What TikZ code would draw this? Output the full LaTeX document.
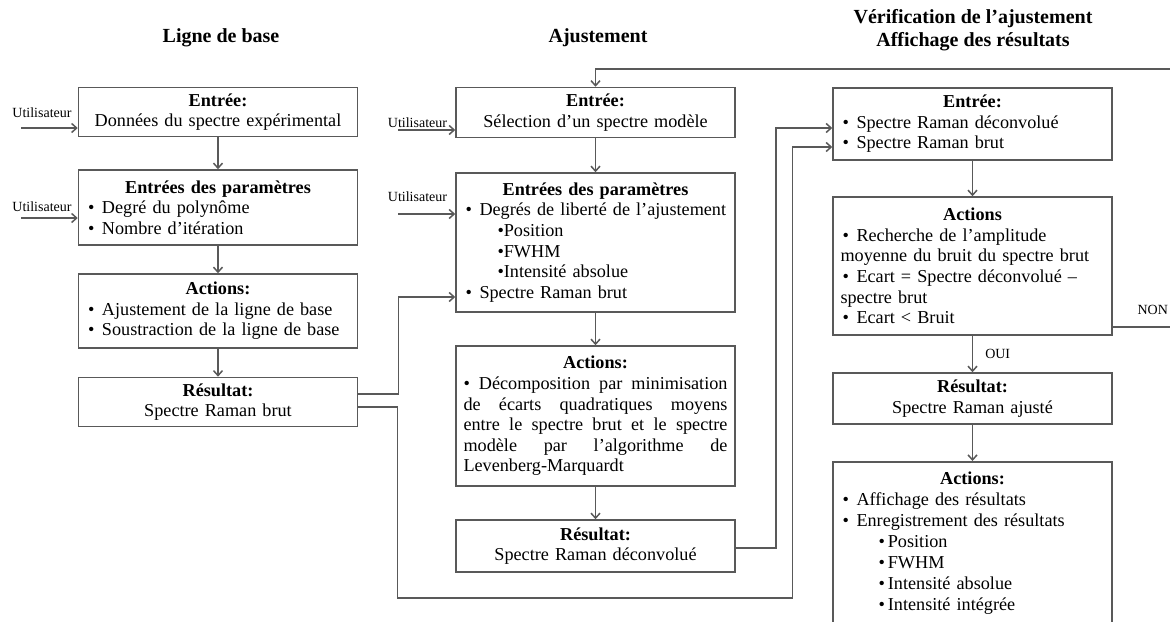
\documentclass[tikz,border=0pt]{standalone}
\usepackage{fontspec}
\setmainfont{Liberation Serif}
\usetikzlibrary{arrows.meta,calc}
\setlength{\parindent}{0pt}
\colorlet{trait}{black!65}
\newcommand{\entete}[1]{{\centering\textbf{#1}\par}}
\newcommand{\puce}{\hspace*{1pt}\makebox[7pt][l]{\textbullet}}
\tikzset{
	bloc/.style={draw=trait,line width=0.75pt,text width=132pt,inner xsep=3.75pt,inner ysep=3pt,
		font=\fontsize{9.1}{10.3}\selectfont,align=left},
	titre/.style={font=\fontsize{10}{11.5}\selectfont\bfseries,align=center,inner sep=0pt},
	lbl/.style={font=\fontsize{7}{8}\selectfont,inner sep=1pt},
	fl/.style={draw=trait,line width=0.75pt,->},
}

\begin{document}
\begin{tikzpicture}[x=0.5pt,y=-0.5pt,>={Straight Barb[length=2.5pt,width=4.5pt]}]
		\useasboundingbox (0,0) rectangle (1170,621);
		\clip (0,0) rectangle (1170,621);
		\node[titre,anchor=base] (tA) at (221,42) {Ligne de base};
		\node[titre,anchor=base] (tB) at (598,42) {Ajustement};
		\node[titre] (tC) at (973,30) {Vérification de l’ajustement\\Affichage des résultats};
		% ligne de base
		\node[bloc,align=center,minimum height=24pt] (eA) at (218,112) {\textbf{Entrée:}\\Données du spectre expérimental};
		\node[bloc,minimum height=37.5pt] (pA) at (218,207.5) {\entete{Entrées des paramètres}
			\puce Degré du polynôme\\
			\puce Nombre d’itération};
		\node[bloc,minimum height=37pt] (actA) at (218,311) {\entete{Actions:}
			\puce Ajustement de la ligne de base\\
			\puce Soustraction de la ligne de base};
		\node[bloc,align=center,minimum height=24pt] (resA) at (218,402) {\textbf{Résultat:}\\Spectre Raman brut};
		% ajustement
		\node[bloc,align=center,minimum height=25pt] (eB) at (595.5,112.5) {\textbf{Entrée:}\\Sélection d’un spectre modèle};
		\node[bloc,minimum height=69.5pt] (pB) at (595.5,242.5) {\entete{Entrées des paramètres}
			\puce Degrés de liberté de l’ajustement\\
			\hspace*{17pt}\textbullet Position\\
			\hspace*{17pt}\textbullet FWHM\\
			\hspace*{17pt}\textbullet Intensité absolue\\
			\puce Spectre Raman brut};
		\node[bloc,align=justify,minimum height=70pt] (actB) at (595.5,416) {\entete{Actions:}
			\hyphenpenalty=10000 \textbullet\ Décomposition par minimisation\linebreak
			de écarts quadratiques moyens\linebreak
			entre le spectre brut et le spectre\linebreak
			modèle par l’algorithme de\linebreak
			Levenberg-Marquardt};
		\node[bloc,align=center,minimum height=26pt] (resB) at (595.5,546) {\textbf{Résultat:}\\Spectre Raman déconvolué};
		% verification
		\node[bloc,minimum height=36pt] (eC) at (972.5,124) {\entete{Entrée:}
			\puce Spectre Raman déconvolué\\
			\puce Spectre Raman brut};
		\node[bloc,minimum height=69pt] (actC) at (972.5,266) {\entete{Actions}
			\puce Recherche de l’amplitude\\
			moyenne du bruit du spectre brut\\
			\puce Ecart = Spectre déconvolué –\\
			spectre brut\\
			\puce Ecart < Bruit};
		\node[bloc,align=center,minimum height=25.5pt] (resC) at (972.5,398.5) {\textbf{Résultat:}\\Spectre Raman ajusté};
		\node[bloc,anchor=north,inner ysep=5pt,font=\fontsize{9.1}{10.5}\selectfont] (affC) at (972.5,461) {\entete{Actions:}
			\puce Affichage des résultats\\
			\puce Enregistrement des résultats\\
			\hspace*{19pt}\textbullet\hspace{1.5pt}Position\\
			\hspace*{19pt}\textbullet\hspace{1.5pt}FWHM\\
			\hspace*{19pt}\textbullet\hspace{1.5pt}Intensité absolue\\
			\hspace*{19pt}\textbullet\hspace{1.5pt}Intensité intégrée\par\vspace*{40pt}};

		\foreach \a/\b in {eA/pA,pA/actA,actA/resA,eB/pB,pB/actB,actB/resB,eC/actC,resC/affC}
			\draw[fl] (\a) -- (\b);
		\draw[fl] (actC) -- (resC) node[lbl,midway,right=5pt] (oui) {OUI};

		\coordinate (uA1) at (21,128);
		\coordinate (uA2) at (21,218);
		\coordinate (uB1) at (398,130);
		\coordinate (uB2) at (398,214);
		\draw[fl] (uA1) -- (uA1 -| eA.west) node[lbl,pos=0.37,above=4pt] (lA1) {Utilisateur};
		\draw[fl] (uA2) -- (uA2 -| pA.west) node[lbl,pos=0.37,above=2pt] (lA2) {Utilisateur};
		\draw[fl] (uB1) -- (uB1 -| eB.west) node[lbl,pos=0.34,above=0pt] (lB1) {Utilisateur};
		\draw[fl] (uB2) -- (uB2 -| pB.west) node[lbl,pos=0.34,above=5pt] (lB2) {Utilisateur};

		\draw[fl] ([yshift=4pt]resA.east) -- ++(40,0) |- ([yshift=-27.25pt]pB.west);
		\draw[fl] ([yshift=-2.5pt]resA.east) -- ++(39,0) -- ++(0,191) -- ++(395,0) |- ([yshift=-11.5pt]eC.west);
		\draw[fl] ([yshift=-1pt]resB.east) -- ++(40,0) |- ([yshift=-2pt]eC.west);
		\draw[fl] ([yshift=-30.5pt]actC.east) -- ++(80,0) node[lbl,pos=0.5,above=5pt] (non) {NON}
			|- ([yshift=9pt]eB.north) -- (eB.north);
	\end{tikzpicture}
\end{document}
